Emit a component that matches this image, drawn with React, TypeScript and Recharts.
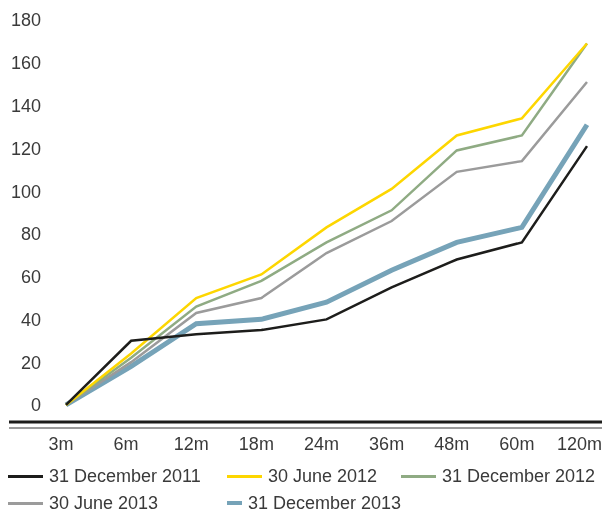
import { LineChart, Line, XAxis, YAxis } from "recharts"

const periods = ["3m", "6m", "12m", "18m", "24m", "36m", "48m", "60m", "120m"]

const dec2011 = [0, 30, 33, 35, 40, 55, 68, 76, 121]
const jun2012 = [0, 24, 50, 61, 83, 101, 126, 134, 169]
const dec2012 = [0, 22, 46, 58, 76, 91, 119, 126, 169]
const jun2013 = [0, 20, 43, 50, 71, 86, 109, 114, 151]
const dec2013 = [0, 18, 38, 40, 48, 63, 76, 83, 131]

const yTicks = [0, 20, 40, 60, 80, 100, 120, 140, 160, 180]

const SERIES = [
  { key: "dec2013", name: "31 December 2013", color: "#76a3b8", width: 5, values: dec2013 },
  { key: "jun2013", name: "30 June 2013", color: "#9b9b9b", width: 2.5, values: jun2013 },
  { key: "dec2012", name: "31 December 2012", color: "#8fab83", width: 2.5, values: dec2012 },
  { key: "jun2012", name: "30 June 2012", color: "#fdd600", width: 2.5, values: jun2012 },
  { key: "dec2011", name: "31 December 2011", color: "#1d1d1b", width: 2.5, values: dec2011 },
]

// legend reads in this order, two rows of a 3-column grid
const LEGEND_ORDER = ["dec2011", "jun2012", "dec2012", "jun2013", "dec2013"]

const FONT = '"Liberation Sans", Arial, sans-serif'
const TEXT = "#3a3a3a"

const data = periods.map((p, i) => {
  const row: Record<string, string | number> = { period: p }
  for (const s of SERIES) row[s.key] = s.values[i]
  return row
})

function YTick(props: any) {
  const { x, y, payload } = props
  return (
    <text x={x + 40} y={y} dy="0.36em" textAnchor="end" fill={TEXT} fontSize={18} fontFamily={FONT}>
      {payload.value}
    </text>
  )
}

function XTick(props: any) {
  const { x, y, payload, index } = props
  const last = index === periods.length - 1
  return (
    <text
      x={last ? x + 15 : x - 5}
      y={y}
      dy="0.71em"
      textAnchor={last ? "end" : "middle"}
      fill={TEXT}
      fontSize={18}
      fontFamily={FONT}
    >
      {payload.value}
    </text>
  )
}

export default function App() {
  const legend = LEGEND_ORDER.map((k) => SERIES.find((s) => s.key === k)!)
  // fixed so the chart may run to the window's right and bottom edges without scrollbars
  return (
    <div style={{ position: "fixed", left: 8, top: 8, width: 595, fontFamily: FONT, color: TEXT }}>
      <LineChart width={595} height={450} data={data} margin={{ top: 12, right: 1, bottom: 0, left: 0 }}>
        {/* black rule right under the plot, then the grey rule carrying the labels */}
        <XAxis
          xAxisId="a"
          dataKey="period"
          height={6}
          padding={{ left: 57, right: 15 }}
          axisLine={{ stroke: "#1d1d1b", strokeWidth: 3 }}
          tickLine={false}
          tick={false}
        />
        <XAxis
          xAxisId="b"
          dataKey="period"
          height={30}
          padding={{ left: 57, right: 15 }}
          axisLine={{ stroke: "#9b9b9b", strokeWidth: 2 }}
          tickLine={false}
          tickMargin={3}
          interval={0}
          tick={(p: any) => <XTick {...p} />}
        />
        <YAxis
          width={1}
          domain={[-8, 180]}
          ticks={yTicks}
          axisLine={false}
          tickLine={false}
          tick={(p: any) => <YTick {...p} />}
          interval={0}
          allowDataOverflow
        />
        {SERIES.map((s) => (
          <Line
            key={s.key}
            xAxisId="a"
            type="linear"
            dataKey={s.key}
            name={s.name}
            stroke={s.color}
            strokeWidth={s.width}
            dot={false}
            activeDot={false}
            isAnimationActive={false}
          />
        ))}
      </LineChart>
      <div
        style={{
          display: "grid",
          gridTemplateColumns: "219px 174px 1fr",
          rowGap: 11,
          marginTop: 10,
          fontSize: 18,
          lineHeight: "16px",
          width: 595,
        }}
      >
        {legend.map((s) => (
          <div key={s.key} style={{ display: "flex", alignItems: "center", whiteSpace: "nowrap" }}>
            <span
              style={{
                display: "inline-block",
                width: 35,
                height: s.key === "dec2013" ? 4 : 3,
                background: s.color,
                marginRight: 6,
              }}
            />
            {s.name}
          </div>
        ))}
      </div>
    </div>
  )
}
